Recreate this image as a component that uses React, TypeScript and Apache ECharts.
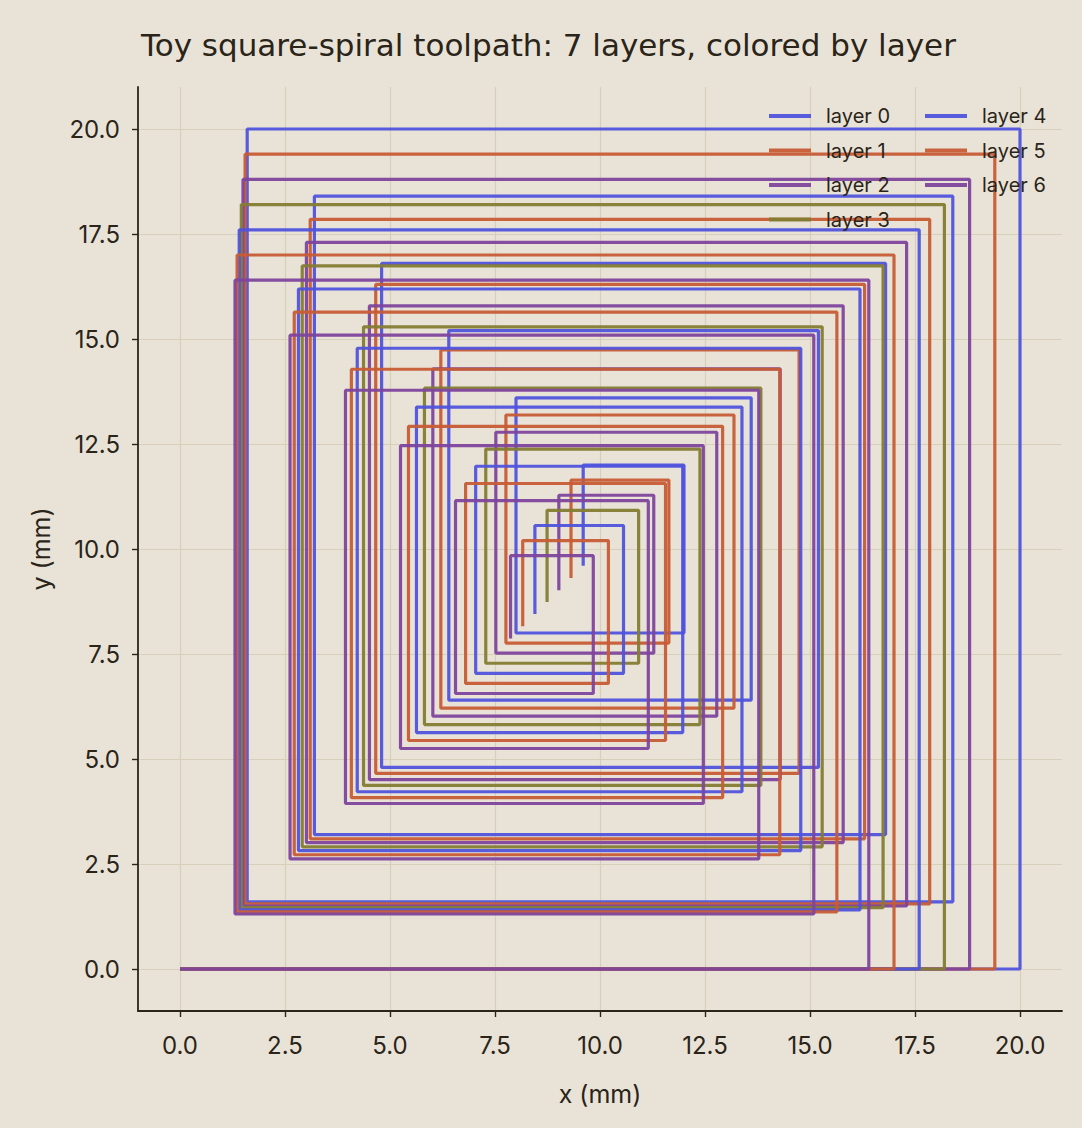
import React, { useEffect, useRef } from "react";
import * as echarts from "echarts";

// Each layer is a square spiral that starts at the origin and alternates
// horizontal / vertical moves. Every value below is the coordinate reached by
// one turn pair: move along x to v, then along y to v.
const layer0Turns = [20, 1.6, 18.4, 3.2, 16.8, 4.8, 15.2, 6.4, 13.6, 8.0, 12.0, 9.6];
const layer1Turns = [19.4, 1.55, 17.85, 3.1, 16.3, 4.66, 14.74, 6.21, 13.19, 7.76, 11.64, 9.31];
const layer2Turns = [18.8, 1.5, 17.3, 3.01, 15.79, 4.51, 14.29, 6.02, 12.78, 7.52, 11.28, 9.02];
const layer3Turns = [18.2, 1.46, 16.74, 2.91, 15.29, 4.37, 13.83, 5.82, 12.38, 7.28, 10.92, 8.74];
const layer4Turns = [17.6, 1.41, 16.19, 2.82, 14.78, 4.22, 13.38, 5.63, 11.97, 7.04, 10.56, 8.45];
const layer5Turns = [17.0, 1.36, 15.64, 2.72, 14.28, 4.08, 12.92, 5.44, 11.56, 6.8, 10.2, 8.16];
const layer6Turns = [16.4, 1.31, 15.09, 2.62, 13.78, 3.94, 12.46, 5.25, 11.15, 6.56, 9.84, 7.87];

const layerNames = ["layer 0", "layer 1", "layer 2", "layer 3", "layer 4", "layer 5", "layer 6"];
const layerTurns = [layer0Turns, layer1Turns, layer2Turns, layer3Turns, layer4Turns, layer5Turns, layer6Turns];

const axisTicks = [0, 2.5, 5, 7.5, 10, 12.5, 15, 17.5, 20];

const palette = ["#4f53dc", "#c75c36", "#7e449d", "#847c33"];
const ink = "#2a2419";
const paper = "#e9e3d7";
const gridColor = "#d8cfbb";
const fontFamily = "Inter, Roboto, sans-serif";
const titleFont = "'DejaVu Sans', Inter, sans-serif";

// Expand the turn list into the polyline vertices of the toolpath.
function spiralVertices(turns: number[]): number[][] {
  const pts: number[][] = [[0, 0]];
  let y = 0;
  for (const v of turns) {
    pts.push([v, y]);
    pts.push([v, v]);
    y = v;
  }
  return pts;
}

function valueAxis(name: string, isX: boolean) {
  return {
    type: "value",
    min: -1,
    max: 21,
    name,
    nameLocation: "middle",
    nameGap: isX ? 70 : 85,
    nameTextStyle: { color: ink, fontSize: 25, fontFamily },
    axisLine: { show: true, onZero: false, lineStyle: { color: ink, width: 1.8 } },
    axisTick: {
      show: true,
      inside: false,
      length: 6,
      customValues: axisTicks,
      lineStyle: { color: ink, width: 1.4 },
    },
    axisLabel: {
      customValues: axisTicks,
      color: ink,
      fontSize: 24,
      fontFamily,
      margin: isX ? 22 : 18,
      formatter: (v: number) => v.toFixed(1),
    },
    splitLine: { show: true, lineStyle: { color: gridColor, width: 1.2 } },
  };
}

function legendBlock(names: string[], left: number) {
  return {
    data: names,
    orient: "vertical",
    left,
    top: 106,
    padding: 0,
    icon: "rect",
    itemWidth: 42,
    itemHeight: 3.8,
    itemGap: 14.5,
    textStyle: { color: ink, fontSize: 20, fontFamily, padding: [0, 0, 0, 10] },
  };
}

export default function App() {
  const ref = useRef<HTMLDivElement>(null);

  useEffect(() => {
    if (!ref.current) return;
    const chart = echarts.init(ref.current, undefined, { renderer: "svg" });

    const series = layerTurns.map((turns, i) => ({
      name: layerNames[i],
      type: "line",
      data: spiralVertices(turns),
      showSymbol: false,
      symbol: "none",
      lineStyle: { color: palette[i % 4], width: 3.2, opacity: 0.95 },
      itemStyle: { color: palette[i % 4], opacity: 0.95 },
      emphasis: { disabled: true },
    }));

    chart.setOption({
      animation: false,
      backgroundColor: paper,
      title: {
        text: "Toy square-spiral toolpath: 7 layers, colored by layer",
        left: 136,
        top: 24,
        textStyle: { color: ink, fontSize: 31, fontWeight: 500, fontFamily: titleFont },
      },
      grid: { left: 138, right: 20, top: 87, bottom: 117 },
      xAxis: valueAxis("x (mm)", true),
      yAxis: valueAxis("y (mm)", false),
      legend: [legendBlock(layerNames.slice(0, 4), 769), legendBlock(layerNames.slice(4), 925)],
      series,
    });

    return () => chart.dispose();
  }, []);

  return (
    <div
      ref={ref}
      style={{ position: "absolute", left: 0, top: 0, width: 1082, height: 1128 }}
    />
  );
}
